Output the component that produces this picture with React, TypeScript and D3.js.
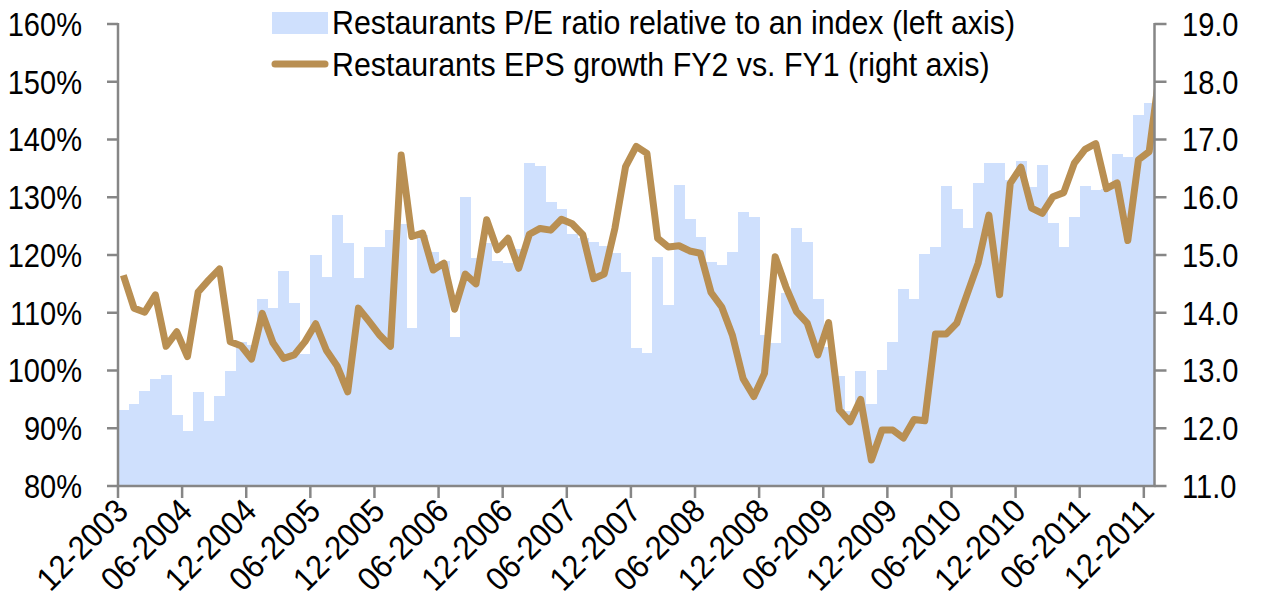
import * as d3 from "d3";

// monthly observations, 12-2003 .. 12-2011 (one extra line point for 01-2012)
const startYear = 2003;
const startMonth = 12;

const peRatio = [
  93.2, 94.2, 96.4, 98.6, 99.2, 92.3, 89.6, 96.2, 91.3, 95.6,
  100.0, 105.0, 104.5, 112.4, 110.8, 117.2, 111.7, 102.9, 120.0, 116.2,
  126.9, 122.1, 116.1, 121.3, 121.4, 124.3, 125.4, 107.4, 123.5, 120.5,
  119.0, 105.8, 130.0, 119.5, 122.0, 119.0, 118.6, 121.0, 136.0, 135.4,
  129.2, 127.9, 123.6, 122.9, 122.3, 121.5, 120.4, 117.1, 103.9, 103.1,
  119.6, 111.3, 132.1, 126.3, 123.2, 118.8, 118.3, 120.5, 127.4, 126.5,
  106.1, 104.7, 113.5, 124.6, 122.2, 112.4, 104.0, 99.0, 93.0, 99.9,
  94.2, 100.1, 104.9, 114.1, 112.4, 120.2, 121.4, 131.9, 128.0, 124.7,
  132.5, 135.9, 135.9, 133.0, 136.3, 131.8, 135.6, 125.5, 121.4, 126.6,
  131.9, 131.3, 131.5, 137.5, 136.9, 144.2, 146.4,
];

const epsGrowth = [
  14.65, 14.08, 14.01, 14.31, 13.42, 13.67, 13.24, 14.36, 14.57, 14.76,
  13.5, 13.43, 13.2, 13.99, 13.48, 13.21, 13.27, 13.5, 13.81, 13.35,
  13.08, 12.63, 14.08, 13.85, 13.61, 13.42, 16.73, 15.32, 15.38, 14.74,
  14.86, 14.06, 14.67, 14.5, 15.61, 15.09, 15.29, 14.77, 15.36, 15.46,
  15.43, 15.62, 15.54, 15.35, 14.59, 14.67, 15.46, 16.53, 16.88, 16.76,
  15.29, 15.14, 15.16, 15.07, 15.03, 14.35, 14.1, 13.61, 12.86, 12.55,
  12.95, 14.97, 14.45, 14.02, 13.82, 13.27, 13.83, 12.32, 12.11, 12.5,
  11.45, 11.97, 11.97, 11.83, 12.15, 12.13, 13.63, 13.63, 13.82, 14.34,
  14.86, 15.69, 14.31, 16.24, 16.52, 15.81, 15.72, 16.01, 16.08, 16.59,
  16.83, 16.93, 16.15, 16.25, 15.25, 16.65, 16.79, 18.2,
];

const leftTicks = [80, 90, 100, 110, 120, 130, 140, 150, 160];
const rightTicks = [11, 12, 13, 14, 15, 16, 17, 18, 19];

const legendLabels = [
  "Restaurants P/E ratio relative to an index (left axis)",
  "Restaurants EPS growth FY2 vs. FY1 (right axis)",
];

const monthLabel = (i) => {
  const m0 = startMonth - 1 + i;
  const y = startYear + Math.floor(m0 / 12);
  const m = (m0 % 12) + 1;
  return (m < 10 ? "0" : "") + m + "-" + y;
};

const W = 1261;
const H = 611;
const left = 118;
const right = 1154.5;
const top = 24;
const bottom = 486;

const axisColor = "#868686";
const barColor = "#cfe0fd";
const lineColor = "#b98f52";
const font = "'Liberation Sans', Arial, sans-serif";
// the original uses a narrow face; squeeze the regular one horizontally
const squeeze = 0.88;

export default function App() {
  const n = peRatio.length;
  const x = d3.scaleLinear().domain([0, n]).range([left, right]);
  const yL = d3.scaleLinear().domain([80, 160]).range([bottom, top]);
  const yR = d3.scaleLinear().domain([11, 19]).range([bottom, top]);

  const line = d3
    .line()
    .x((d, i) => x(i + 0.5))
    .y((d) => yR(d));

  const xTicks = d3.range(0, n, 6);

  return (
    <svg
      width={W}
      height={H}
      style={{ position: "absolute", left: 0, top: 0, background: "#fff" }}
      fontFamily={font}
    >
      <defs>
        <clipPath id="plot">
          <rect x={left} y={0} width={right - left} height={bottom} />
        </clipPath>
      </defs>

      {/* bars */}
      <g fill={barColor} shapeRendering="crispEdges">
        {peRatio.map((v, i) => (
          <rect
            key={i}
            x={x(i)}
            width={x(i + 1) - x(i) + 0.5}
            y={yL(v)}
            height={bottom - yL(v)}
          />
        ))}
      </g>

      {/* line */}
      <path
        d={line(epsGrowth)}
        fill="none"
        stroke={lineColor}
        strokeWidth={7}
        strokeLinejoin="round"
        clipPath="url(#plot)"
      />

      {/* axes */}
      <g stroke={axisColor} strokeWidth={2.5}>
        <line x1={left} x2={left} y1={top - 1} y2={bottom} />
        <line x1={right} x2={right} y1={top - 1} y2={bottom} />
        <line x1={left - 1} x2={right + 1} y1={bottom} y2={bottom} />
        {leftTicks.map((t) => (
          <line key={t} x1={left - 11} x2={left} y1={yL(t)} y2={yL(t)} />
        ))}
        {rightTicks.map((t) => (
          <line key={t} x1={right} x2={right + 12} y1={yR(t)} y2={yR(t)} />
        ))}
        {xTicks.map((i) => (
          <line key={i} x1={x(i)} x2={x(i)} y1={bottom} y2={bottom + 12} />
        ))}
      </g>

      <g fontSize={33} fill="#000">
        {leftTicks.map((t) => (
          <text
            key={t}
            transform={`translate(82,${yL(t)}) scale(${squeeze},1)`}
            dy="0.36em"
            textAnchor="end"
          >
            {t + "%"}
          </text>
        ))}
        {rightTicks.map((t) => (
          <text
            key={t}
            transform={`translate(1182,${yR(t)}) scale(${squeeze},1)`}
            dy="0.36em"
          >
            {t.toFixed(1)}
          </text>
        ))}
        {xTicks.map((i) => (
          <text
            key={i}
            transform={`translate(${x(i) + 12},${bottom + 27}) rotate(-45) scale(0.93,1)`}
            textAnchor="end"
          >
            {monthLabel(i)}
          </text>
        ))}
      </g>

      {/* legend */}
      <g fontSize={33}>
        <rect x={272} y={12} width={56} height={22} fill={barColor} />
        <text transform={`translate(332,34) scale(0.92,1)`}>{legendLabels[0]}</text>
        <line
          x1={275}
          x2={325}
          y1={64}
          y2={64}
          stroke={lineColor}
          strokeWidth={7}
          strokeLinecap="round"
        />
        <text transform={`translate(332,76) scale(0.92,1)`}>{legendLabels[1]}</text>
      </g>
    </svg>
  );
}
